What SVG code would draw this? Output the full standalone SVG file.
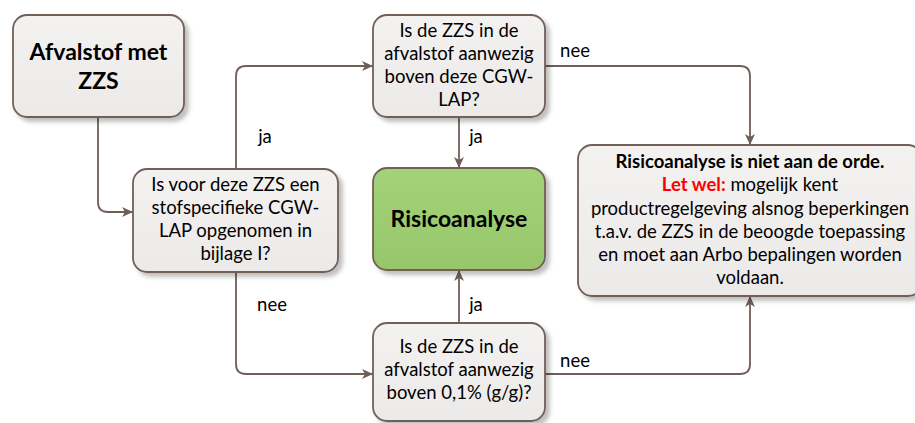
<svg xmlns="http://www.w3.org/2000/svg" width="915" height="423" viewBox="0 0 915 423">
<defs>
<linearGradient id="gGray" x1="0" y1="0" x2="0" y2="1">
<stop offset="0" stop-color="#F3F2F1"/><stop offset="1" stop-color="#ECEAE9"/>
</linearGradient>
<linearGradient id="gGreen" x1="0" y1="0" x2="0" y2="1">
<stop offset="0" stop-color="#A3D278"/><stop offset="1" stop-color="#97C76A"/>
</linearGradient>
<filter id="sh" x="-10%" y="-10%" width="130%" height="130%">
<feDropShadow dx="4" dy="4" stdDeviation="2" flood-color="#000" flood-opacity="0.25"/>
</filter>
<marker id="ar" markerWidth="12" markerHeight="10" refX="11" refY="5" orient="auto" markerUnits="userSpaceOnUse">
<path d="M0,0 L11,5 L0,10 L3,5 Z" fill="#725E58"/>
</marker>
</defs>
<style>
.box{fill:url(#gGray);stroke:#725E58;stroke-width:1.8;filter:url(#sh)}
.green{fill:url(#gGreen);stroke:#725E58;stroke-width:1.8;filter:url(#sh)}
.t{font-family:Lato,"Open Sans",sans-serif;font-size:18.5px;fill:#000;text-anchor:middle}
.b{font-weight:bold}
.big{font-size:23px;font-weight:bold}
.con{fill:none;stroke:#725E58;stroke-width:1.8;marker-end:url(#ar)}
.red{fill:#FF0000;font-weight:bold}
</style>
<g id="connectors">
<path class="con" d="M98,117 V202 Q98,212 108,212 H133"/>
<path class="con" d="M236,169 V76 Q236,66 246,66 H373"/>
<path class="con" d="M236,272 V364 Q236,374 246,374 H373"/>
<path class="con" d="M459,117 V168"/>
<path class="con" d="M459,323 V270"/>
<path class="con" d="M545,66 H740 Q750,66 750,76 V145"/>
<path class="con" d="M545,374 H740 Q750,374 750,364 V296"/>
<text class="t" x="265" y="143">ja</text>
<text class="t" x="476" y="143">ja</text>
<text class="t" x="575" y="57">nee</text>
<text class="t" x="272" y="311">nee</text>
<text class="t" x="476" y="311">ja</text>
<text class="t" x="575" y="367">nee</text>
</g>
<g id="start">
<rect class="box" x="13" y="15" width="171" height="102" rx="14"/>
<text class="t big" x="98.5" y="60">Afvalstof met</text>
<text class="t big" x="98.5" y="89">ZZS</text>
</g>
<g id="q-top">
<rect class="box" x="373" y="15" width="172" height="102" rx="14"/>
<text class="t" x="459" y="37">Is de ZZS in de</text>
<text class="t" x="459" y="60">afvalstof aanwezig</text>
<text class="t" x="459" y="83">boven deze CGW-</text>
<text class="t" x="459" y="106">LAP?</text>
</g>
<g id="q-left">
<rect class="box" x="133" y="169" width="205" height="103" rx="14"/>
<text class="t" x="235.5" y="191">Is voor deze ZZS een</text>
<text class="t" x="235.5" y="214">stofspecifieke CGW-</text>
<text class="t" x="235.5" y="237">LAP opgenomen in</text>
<text class="t" x="235.5" y="260">bijlage I?</text>
</g>
<g id="risico">
<rect class="green" x="373" y="168" width="172" height="102" rx="14"/>
<text class="t big" x="459" y="227">Risicoanalyse</text>
</g>
<g id="q-bottom">
<rect class="box" x="373" y="323" width="172" height="98" rx="14"/>
<text class="t" x="459" y="353">Is de ZZS in de</text>
<text class="t" x="459" y="376">afvalstof aanwezig</text>
<text class="t" x="459" y="399">boven 0,1% (g/g)?</text>
</g>
<g id="result">
<rect class="box" x="578" y="145" width="344" height="151" rx="14"/>
<text class="t b" x="750" y="168">Risicoanalyse is niet aan de orde.</text>
<text class="t" x="750" y="191"><tspan class="red">Let wel:</tspan> mogelijk kent</text>
<text class="t" x="750" y="215">productregelgeving alsnog beperkingen</text>
<text class="t" x="750" y="238">t.a.v. de ZZS in de beoogde toepassing</text>
<text class="t" x="750" y="261">en moet aan Arbo bepalingen worden</text>
<text class="t" x="750" y="284">voldaan.</text>
</g>
</svg>
